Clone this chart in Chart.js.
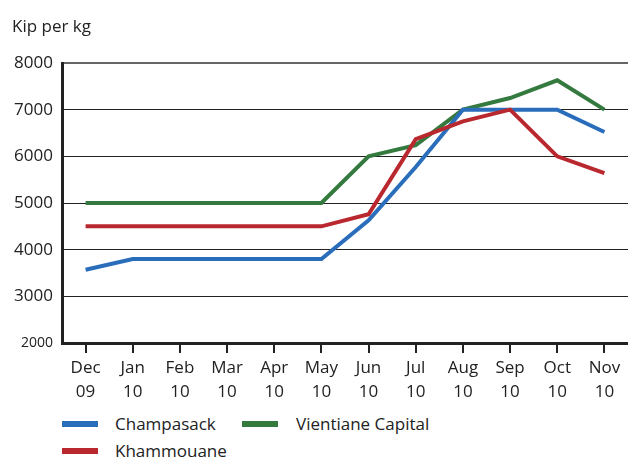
<!DOCTYPE html>
<html>
<head>
<meta charset="utf-8">
<script src="https://cdn.jsdelivr.net/npm/chart.js@4/dist/chart.umd.min.js"></script>
<style>
  body { margin: 0; background: #fff; font-family: "Open Sans", sans-serif; color: #222; }
  #wrap { position: relative; width: 628px; height: 460px; }
  #chart { position: absolute; left: 0; top: 0; }
  .title { position: absolute; left: 12px; top: 14px; font-size: 17px; }
  .leg { position: absolute; font-size: 17px; line-height: 24px; }
  .sw { position: absolute; width: 36px; height: 6px; }
</style>
</head>
<body>
<div id="wrap">
  <canvas id="chart" width="628" height="410"></canvas>
  <div class="title">Kip per kg</div>
  <div class="sw" style="left:62px;top:421px;background:#2a6ebb"></div>
  <div class="leg" style="left:115px;top:412px">Champasack</div>
  <div class="sw" style="left:242px;top:421px;background:#347a3f"></div>
  <div class="leg" style="left:296px;top:412px">Vientiane Capital</div>
  <div class="sw" style="left:62px;top:448px;background:#b8282e"></div>
  <div class="leg" style="left:115px;top:439px">Khammouane</div>
</div>
<script>
const months = [['Dec', '09'], ['Jan', '10'], ['Feb', '10'], ['Mar', '10'], ['Apr', '10'], ['May', '10'],
  ['Jun', '10'], ['Jul', '10'], ['Aug', '10'], ['Sep', '10'], ['Oct', '10'], ['Nov', '10']];
const champasack = [3570, 3800, 3800, 3800, 3800, 3800, 4630, 5770, 7000, 7000, 7000, 6520];
const khammouane = [4500, 4500, 4500, 4500, 4500, 4500, 4760, 6370, 6750, 7000, 6000, 5640];
const vientiane = [5000, 5000, 5000, 5000, 5000, 5000, 6000, 6240, 7000, 7250, 7630, 7000];
const yTicks = [2000, 3000, 4000, 5000, 6000, 7000, 8000];

const line = (label, data, color) => ({
  label, data, borderColor: color, backgroundColor: color,
  borderWidth: 4, pointRadius: 0, tension: 0, borderJoinStyle: 'miter'
});

new Chart(document.getElementById('chart'), {
  type: 'line',
  data: {
    labels: months,
    datasets: [
      line('Khammouane', khammouane, '#b8282e'),
      line('Champasack', champasack, '#2a6ebb'),
      line('Vientiane Capital', vientiane, '#347a3f')
    ]
  },
  options: {
    responsive: false,
    animation: false,
    layout: { padding: { top: 63, right: 0, left: 0, bottom: 0 } },
    plugins: { legend: { display: false }, tooltip: { enabled: false } },
    scales: {
      x: {
        offset: true,
        grid: { offset: false, drawOnChartArea: false, drawTicks: true, tickLength: 10, color: '#222', lineWidth: 2 },
        border: { color: '#222', width: 3 },
        ticks: {
          color: '#222', font: { family: 'Open Sans', size: 17, lineHeight: 1.4 },
          padding: 3, maxRotation: 0, autoSkip: false
        },
        afterFit: s => { s.height = 67; }
      },
      y: {
        min: 2000, max: 8000,
        afterBuildTicks: s => { s.ticks = yTicks.map(v => ({ value: v })); },
        grid: {
          drawTicks: false,
          color: c => c.tick && c.tick.value === 8000 ? '#666' : '#222',
          lineWidth: c => c.tick && c.tick.value === 8000 ? 2 : 1
        },
        border: { color: '#222', width: 3 },
        ticks: {
          color: '#222', padding: 9,
          callback: v => String(v),
          font: c => ({ family: 'Open Sans', size: c.tick && c.tick.value === 2000 ? 14 : 17 })
        },
        afterFit: s => { s.width = 62; }
      }
    }
  }
});
</script>
</body>
</html>
